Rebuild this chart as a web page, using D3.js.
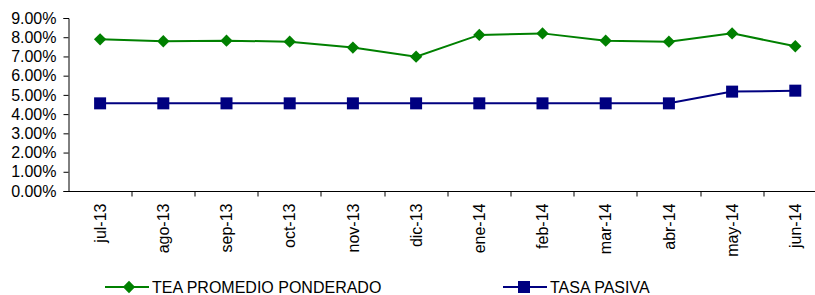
<!DOCTYPE html>
<html lang="es">
  <head>
    <meta charset="UTF-8">
    <title>Tasas</title>
    <style>
      body { margin: 0; background: #fff; }
      text { font-family: "Liberation Sans", Arial, sans-serif; }
    </style>
  </head>
  <body>
    <div id="chart"></div>
    <script src="https://d3js.org/d3.v7.min.js"></script>
    <script>
      let months = ["jul-13", "ago-13", "sep-13", "oct-13", "nov-13", "dic-13",
                    "ene-14", "feb-14", "mar-14", "abr-14", "may-14", "jun-14"];
      let tea = [0.0789, 0.0779, 0.0782, 0.0777, 0.0746, 0.0699,
                 0.0812, 0.0820, 0.0782, 0.0777, 0.0820, 0.0753];
      let pasiva = [0.0456, 0.0456, 0.0456, 0.0456, 0.0456, 0.0456,
                    0.0456, 0.0456, 0.0456, 0.0456, 0.0517, 0.0522];
      let yTicks = [0, 0.01, 0.02, 0.03, 0.04, 0.05, 0.06, 0.07, 0.08, 0.09];

      let width = 815;
      let height = 295;
      let fontSize = 16;
      let svg = d3.select("#chart").append("svg").attr("width", width).attr("height", height);

      // plot runs past the right edge, as in the original
      let x = d3.scaleBand().domain(months).range([68.5, 68.5 + 12 * 63.2]);
      let y = d3.scaleLinear().domain([0, 0.09]).range([191, 18]);

      let yAxis = svg.append("g")
        .attr("transform", "translate(68.5,0)")
        .call(d3.axisLeft(y).tickValues(yTicks).tickSize(5).tickPadding(7).tickFormat(d3.format(".2%")));
      yAxis.selectAll("text").attr("font-size", fontSize).attr("fill", "#000").attr("font-family", null);

      let xAxis = svg.append("g")
        .attr("transform", "translate(0,191.5)")
        .call(d3.axisBottom(x).tickSize(0).tickPadding(0));
      xAxis.select(".domain").remove();
      xAxis.selectAll(".tick line").remove();
      xAxis.selectAll("text")
        .attr("font-size", fontSize).attr("fill", "#000").attr("font-family", null)
        .attr("transform", "rotate(-90)")
        .attr("x", -12).attr("y", 0).attr("dy", "0.35em")
        .attr("text-anchor", "end");

      // x axis line and ticks at category boundaries
      svg.append("line")
        .attr("x1", 68.5).attr("x2", width).attr("y1", 191.5).attr("y2", 191.5)
        .attr("stroke", "#000");
      svg.selectAll(".xtick")
        .data(months)
        .enter()
        .append("line")
        .attr("class", "xtick")
        .attr("x1", d => Math.round(x(d) + x.bandwidth())).attr("x2", d => Math.round(x(d) + x.bandwidth()))
        .attr("y1", 191.5).attr("y2", 196.5)
        .attr("stroke", "#000");
      svg.selectAll(".domain, .tick line").attr("stroke", "#000");

      let cx = d => x(d) + x.bandwidth() / 2;
      let line = d3.line().x((d, i) => cx(months[i])).y(d => y(d));

      svg.append("path").datum(tea).attr("d", line)
        .attr("fill", "none").attr("stroke", "#008000").attr("stroke-width", 2);
      svg.append("path").datum(pasiva).attr("d", line)
        .attr("fill", "none").attr("stroke", "#000080").attr("stroke-width", 2);

      let diamond = d3.symbol().type(d3.symbolSquare).size(76);
      svg.selectAll(".tea")
        .data(tea)
        .enter()
        .append("path")
        .attr("class", "tea")
        .attr("d", diamond)
        .attr("transform", (d, i) => "translate(" + cx(months[i]) + "," + y(d) + ") rotate(45)")
        .attr("fill", "#008000");

      svg.selectAll(".pasiva")
        .data(pasiva)
        .enter()
        .append("rect")
        .attr("class", "pasiva")
        .attr("x", (d, i) => cx(months[i]) - 6)
        .attr("y", d => y(d) - 6)
        .attr("width", 12).attr("height", 12)
        .attr("fill", "#000080");

      // legend
      let legend = [
        { name: "TEA PROMEDIO PONDERADO", color: "#008000", x: 105, mark: "diamond" },
        { name: "TASA PASIVA", color: "#000080", x: 503, mark: "square" }
      ];
      let lg = svg.selectAll(".legend").data(legend).enter().append("g")
        .attr("transform", d => "translate(" + d.x + ",287)");
      lg.append("line").attr("x1", 0).attr("x2", 44).attr("stroke", d => d.color).attr("stroke-width", 2);
      lg.filter(d => d.mark == "diamond").append("path")
        .attr("d", diamond).attr("transform", "translate(24,0) rotate(45)").attr("fill", d => d.color);
      lg.filter(d => d.mark == "square").append("rect")
        .attr("x", 15).attr("y", -6).attr("width", 12).attr("height", 12).attr("fill", d => d.color);
      lg.append("text").attr("x", 47).attr("dy", "0.36em").attr("font-size", fontSize).text(d => d.name);
    </script>
  </body>
</html>
